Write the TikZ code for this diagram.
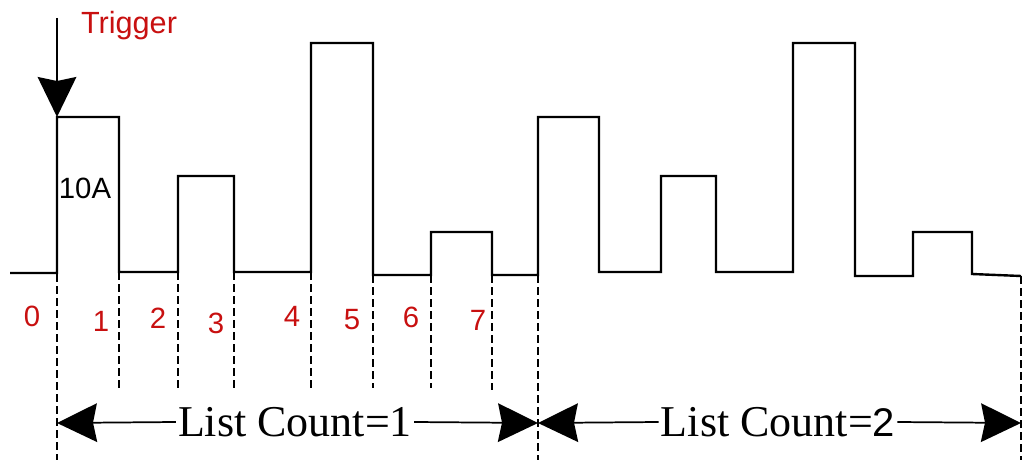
\documentclass[tikz,border=0pt]{standalone}
\usepackage{fontspec}
\setmainfont{Liberation Sans}
\newfontfamily\timesLC{Liberation Serif}
\usetikzlibrary{arrows.meta}
\definecolor{labred}{RGB}{200,16,16}

\begin{document}
\begin{tikzpicture}[x=0.75pt, y=-0.75pt,
	wave/.style={line width=1.8pt, line join=miter},
	guide/.style={line width=1.2pt, dash pattern=on 6pt off 3pt},
	idx/.style={text=labred, font=\fontsize{22}{26}\selectfont, inner sep=0pt},
	span/.style={font=\timesLC\fontsize{33}{38}\selectfont, inner sep=1.5pt},
	bigtip/.style={-{Stealth[length=30pt, width=29pt, inset=3pt]}, line width=1.3pt}]
	\useasboundingbox (0, 0) rectangle (1024, 460);

	% current waveform, two runs of the list
	\draw[wave] (10, 273) -- (57, 273) -- (57, 117) -- (119, 117) -- (119, 272) -- (178, 272)
		-- (178, 176) -- (234, 176) -- (234, 272) -- (311, 272) -- (311, 43) -- (373, 43)
		-- (373, 275) -- (431, 275) -- (431, 232) -- (492, 232) -- (492, 275) -- (538, 275)
		-- (538, 117) -- (599, 117) -- (599, 272) -- (661, 272) -- (661, 176) -- (716, 176)
		-- (716, 272) -- (793, 272) -- (793, 43) -- (855, 43) -- (855, 276) -- (913, 276)
		-- (913, 232) -- (972, 232) -- (972, 274) -- (1021, 276);

	% step boundaries
	\draw[guide] (57, 274) -- (57, 460);
	\draw[guide] (119, 272) -- (119, 388);
	\draw[guide] (178, 272) -- (178, 388);
	\draw[guide] (234, 272) -- (234, 388);
	\draw[guide] (311, 272) -- (311, 388);
	\draw[guide] (373, 275) -- (373, 388);
	\draw[guide] (431, 275) -- (431, 388);
	\draw[guide] (492, 275) -- (492, 390);
	\draw[guide] (538, 275) -- (538, 460);
	\draw[guide] (1021, 276) -- (1021, 460);

	% step numbers
	\node[idx] at (32, 316) (s0) {0};
	\node[idx] at (101, 321) (s1) {1};
	\node[idx] at (158, 318) (s2) {2};
	\node[idx] at (216, 323) (s3) {3};
	\node[idx] at (292, 316) (s4) {4};
	\node[idx] at (352, 320) (s5) {5};
	\node[idx] at (411, 317) (s6) {6};
	\node[idx] at (478, 320) (s7) {7};

	\node[text=labred, font=\fontsize{23}{27}\selectfont, inner sep=0pt] at (129, 26) (trig) {Trigger};
	\node[font=\fontsize{22}{26}\selectfont, inner sep=0pt] at (85, 188) (amp) {10A};
	\coordinate (trigtop) at (57, 18);
	\coordinate (trighit) at (57, 117);
	\draw[bigtip] (trigtop) -- (trighit);

	% list count spans
	\coordinate (c0) at (57, 423);
	\coordinate (c1) at (538, 423);
	\coordinate (c2) at (1021, 423);
	\node[span] at (295, 422) (lc1) {List Count=1};
	\node[span] at (778, 422) (lc2) {List Count={\fontspec{Liberation Sans}\fontsize{30}{34}\selectfont 2}};
	\draw[bigtip] (lc1.west) -- (c0);
	\draw[bigtip] (lc1.east) -- (c1);
	\draw[bigtip] (lc2.west) -- (c1);
	\draw[bigtip] (lc2.east) -- (c2);
\end{tikzpicture}
\end{document}
